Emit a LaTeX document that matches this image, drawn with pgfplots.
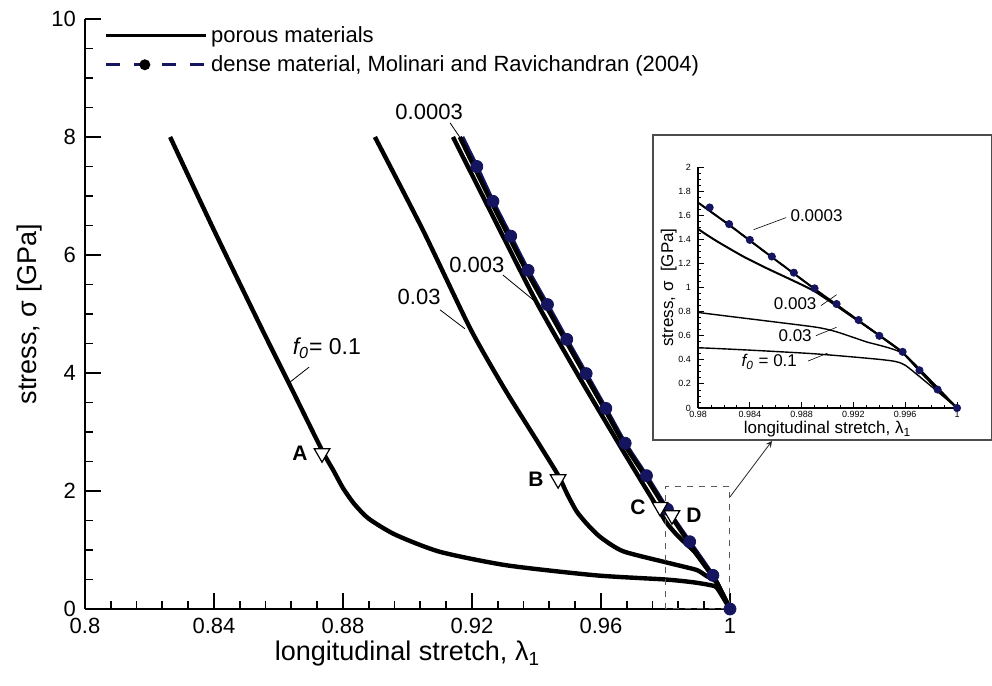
\documentclass[border=0pt]{standalone}
\usepackage{pgfplots}
\pgfplotsset{compat=1.18}
\usepackage{pgfplotstable}
\usepackage{fontspec}
\setmainfont{Liberation Sans}
\definecolor{dnavy}{RGB}{20,20,95}
\pgfplotstableread{
x y
0.8264 8
0.8400 6.42
0.8550 4.73
0.8632 3.83
0.8734 2.70
0.8770 2.35
0.8800 2.05
0.8835 1.78
0.8880 1.53
0.8962 1.26
0.9100 0.97
0.9308 0.74
0.9585 0.57
0.9800 0.50
0.9887 0.452
0.9943 0.40
0.9960 0.355
1.0000 0
}\fa
\pgfplotstableread{
x y
0.8899 8
0.9048 6.42
0.9194 4.76
0.9300 3.74
0.9405 2.82
0.9467 2.27
0.9495 1.95
0.9525 1.65
0.9560 1.42
0.9600 1.21
0.9668 0.98
0.9800 0.793
0.9889 0.674
0.9907 0.632
0.9930 0.549
0.9959 0.447
1.0000 0
}\fb
\pgfplotstableread{
x y
0.9141 8
0.9270 6.60
0.9401 5.19
0.9525 4.00
0.9654 2.81
0.9727 2.15
0.9775 1.72
0.9800 1.487
0.9815 1.381
0.9835 1.257
0.9853 1.16
0.9889 0.975
0.9918 0.765
0.9943 0.58
0.9959 0.45
1.0000 0
}\fc
\pgfplotstableread{
x y
0.9162 8
0.9260 6.90
0.9368 5.74
0.9488 4.57
0.9610 3.40
0.9670 2.81
0.9736 2.26
0.9800 1.705
0.9824 1.520
0.9857 1.252
0.9890 0.988
0.9924 0.726
0.9958 0.462
0.9971 0.309
0.9985 0.150
1.0000 0
}\fd
\pgfplotstableread{
x y
0.9170 8
0.9215 7.50
0.9265 6.91
0.9320 6.32
0.9374 5.74
0.9434 5.16
0.9494 4.57
0.9554 3.99
0.9615 3.40
0.9675 2.81
0.9741 2.26
0.9806 1.69
0.9875 1.14
0.9947 0.57
1.0000 0
}\dense
\pgfplotstableread{
x y
0.9215 7.50
0.9265 6.91
0.9320 6.32
0.9374 5.74
0.9434 5.16
0.9494 4.57
0.9554 3.99
0.9615 3.40
0.9675 2.81
0.9741 2.26
0.9806 1.69
0.9875 1.14
0.9947 0.57
1.0000 0
}\densedots
\pgfplotstableread{
x y
0.9809 1.664
0.9824 1.526
0.9840 1.395
0.9857 1.257
0.9874 1.123
0.9890 0.993
0.9907 0.863
0.9924 0.730
0.9940 0.599
0.9958 0.466
0.9971 0.313
0.9985 0.153
1.0000 0
}\densein
\pgfplotstableread{
x y
0.8735 2.64
0.9467 2.20
0.9783 1.73
0.9820 1.59
}\tri
\begin{document}
\begin{tikzpicture}
\useasboundingbox (-42.5pt,-38.5pt) rectangle (453.5pt,304.5pt);
\begin{axis}[
  at={(0,0)}, anchor=south west, scale only axis,
  width=322.5pt, height=295pt,
  xmin=0.8, xmax=1, ymin=0, ymax=10,
  axis x line*=bottom, axis y line*=left,
  axis line style={line width=1.4pt,-},
  xtick={0.8,0.84,...,1.01}, ytick={0,2,...,10},
  minor x tick num=4, minor y tick num=3,
  tick align=inside,
  major tick length=8pt, minor tick length=4pt,
  every tick/.style={black, line width=0.9pt},
  xticklabel style={/pgf/number format/fixed,/pgf/number format/precision=2, yshift=-1pt},
  yticklabel style={xshift=-1pt},
  /pgf/number format/assume math mode=true,
  tick label style={font=\fontsize{11}{13}\selectfont},
  xlabel={longitudinal stretch, λ\textsubscript{1}},
  ylabel={stress, σ [GPa]},
  label style={font=\fontsize{13.5}{16}\selectfont},
  xlabel style={yshift=3pt},
  ylabel style={yshift=-2pt},
  clip=false,
  legend style={at={(axis cs:0.806,9.95)}, anchor=north west, draw=none, fill=none,
    font=\fontsize{11}{13}\selectfont, row sep=1pt, inner sep=0pt},
  legend cell align=left,
  legend image code/.code={\draw[#1,mark=none] (0cm,0cm) -- (1.75cm,0cm);
     \draw[#1,solid] plot coordinates {(0.68cm,0cm)};},
]
\addlegendimage{black, line width=1.4pt, mark=none}
\addlegendentry{porous materials}
\addlegendimage{dnavy, dashed, line width=1.4pt, dash pattern=on 7pt off 7pt, mark=*, mark size=2pt, mark options={black,solid}}
\addlegendentry{dense material, Molinari and Ravichandran (2004)}
\addplot[dnavy, line width=2pt, mark=none, forget plot, smooth, tension=0.3] table {\dense};
\addplot[black, line width=2.2pt, mark=none, forget plot, smooth, tension=0.4] table {\fa};
\addplot[black, line width=2.2pt, mark=none, forget plot, smooth, tension=0.4] table {\fb};
\addplot[black, line width=2.2pt, mark=none, forget plot, smooth, tension=0.4] table {\fc};
\addplot[black, line width=2.2pt, mark=none, forget plot, smooth, tension=0.3] table {\fd};
\addplot[only marks, mark=*, mark size=3pt, dnavy, forget plot] table {\densedots};
\addplot[only marks, mark=triangle*, mark size=4.5pt, mark options={fill=white, draw=black, line width=0.6pt, rotate=180}, forget plot] table {\tri};
\node[font=\bfseries\fontsize{10.5}{12}\selectfont, anchor=east] at (axis cs:0.8712,2.64) {A};
\node[font=\bfseries\fontsize{10.5}{12}\selectfont, anchor=east] at (axis cs:0.9444,2.20) {B};
\node[font=\bfseries\fontsize{10.5}{12}\selectfont, anchor=east] at (axis cs:0.9760,1.73) {C};
\node[font=\bfseries\fontsize{10.5}{12}\selectfont, anchor=west] at (axis cs:0.9843,1.59) {D};
\node[font=\fontsize{11}{13}\selectfont] at (axis cs:0.9067,8.42) {0.0003};
\draw[line width=0.4pt] (axis cs:0.9132,8.24) -- (axis cs:0.9168,7.95);
\node[font=\fontsize{11}{13}\selectfont] at (axis cs:0.9215,5.83) {0.003};
\draw[line width=0.4pt] (axis cs:0.9296,5.66) -- (axis cs:0.9401,5.19);
\node[font=\fontsize{11}{13}\selectfont] at (axis cs:0.9036,5.29) {0.03};
\draw[line width=0.4pt] (axis cs:0.9101,5.07) -- (axis cs:0.9178,4.75);
\node[font=\fontsize{11.5}{13}\selectfont] at (axis cs:0.875,4.42) {\textit{f\textsubscript{0}}= 0.1};
\draw[line width=0.4pt] (axis cs:0.8695,4.10) -- (axis cs:0.8632,3.83);
\draw[dashed, gray!70!black, line width=0.5pt] (axis cs:0.98,0) rectangle (axis cs:1,2.07);
\coordinate (arrs) at (axis cs:1,1.9);
\end{axis}
\draw[gray!30!black, line width=0.4pt, -stealth] (arrs) -- (343.5pt,84pt);
\draw[fill=white, draw=gray!60!black, line width=0.6pt] (284pt,84.5pt) rectangle (453.2pt,237pt);
\begin{axis}[
  at={(306.5pt,100.5pt)}, anchor=south west, scale only axis,
  width=129.5pt, height=120.5pt,
  xmin=0.98, xmax=1, ymin=0, ymax=2,
  axis x line*=bottom, axis y line*=left,
  axis line style={line width=0.6pt,-},
  xtick={0.98,0.984,0.988,0.992,0.996,1}, ytick={0,0.2,...,2.01},
  xticklabels={0.98,0.984,0.988,0.992,0.996,1},
  minor x tick num=3, minor y tick num=3,
  tick align=inside,
  major tick length=3pt, minor tick length=1.5pt,
  every tick/.style={black, line width=0.4pt},
  yticklabel style={/pgf/number format/fixed,/pgf/number format/precision=1},
  /pgf/number format/assume math mode=true,
  tick label style={font=\fontsize{4.5}{5}\selectfont},
  xticklabel style={yshift=2pt},
  xlabel={longitudinal stretch, λ\textsubscript{1}},
  ylabel={stress, σ\ \ [GPa]},
  label style={font=\fontsize{8.5}{10}\selectfont},
  xlabel style={yshift=5pt},
  ylabel style={yshift=-6pt},
  clip=true,
]
\addplot[dnavy, dashed, line width=0.8pt] table {\fd};
\addplot[black, line width=0.7pt, smooth, tension=0.3] table {\fa};
\addplot[black, line width=0.7pt, smooth, tension=0.3] table {\fb};
\addplot[black, line width=1pt, smooth, tension=0.3] table {\fc};
\addplot[black, line width=1pt] table {\fd};
\addplot[only marks, mark=*, mark size=1.8pt, dnavy] table {\densein};
\node[font=\fontsize{8.5}{9}\selectfont, anchor=west] at (axis cs:0.9866,1.6) {0.0003};
\draw[line width=0.3pt] (axis cs:0.9843,1.48) -- (axis cs:0.9868,1.58);
\node[font=\fontsize{8.5}{9}\selectfont] at (axis cs:0.9875,0.87) {0.003};
\draw[line width=0.3pt] (axis cs:0.9895,0.85) -- (axis cs:0.9907,0.94);
\node[font=\fontsize{8.5}{9}\selectfont] at (axis cs:0.9875,0.60) {0.03};
\draw[line width=0.3pt] (axis cs:0.9891,0.60) -- (axis cs:0.9907,0.67);
\node[font=\fontsize{8.5}{9}\selectfont] at (axis cs:0.9855,0.38) {\textit{f\textsubscript{0}} = 0.1};
\draw[line width=0.3pt] (axis cs:0.9885,0.39) -- (axis cs:0.9900,0.455);
\end{axis}
\end{tikzpicture}
\end{document}
